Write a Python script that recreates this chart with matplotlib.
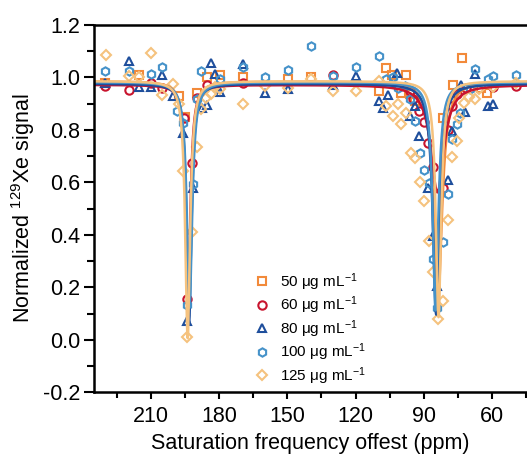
import numpy as np
import matplotlib.pyplot as plt
from matplotlib.ticker import MultipleLocator

plt.rcParams['font.family'] = ['Liberation Sans', 'DejaVu Sans']
plt.rcParams['mathtext.fontset'] = 'custom'
plt.rcParams['mathtext.rm'] = 'Liberation Sans'
plt.rcParams['mathtext.default'] = 'regular'

# data: offset (ppm) and normalized signal
labels = ['50 μg mL$^{-1}$', '60 μg mL$^{-1}$', '80 μg mL$^{-1}$',
          '100 μg mL$^{-1}$', '125 μg mL$^{-1}$']
colors = ['#F28A3A', '#C8142E', '#1E4E9C', '#4592C9', '#F5C27E']
markers = ['s', 'o', '^', 'h', 'D']

x50 = [230, 215, 197.8, 195, 189.8, 185.4, 179.5, 169.7, 149.5, 139.7, 109.7,
       106.4, 104, 100, 97.8, 96, 94, 81.4, 77.1, 73, 64.7, 62]
y50 = [0.98, 1.01, 0.93, 0.85, 0.94, 1.0, 1.01, 1.0, 0.994, 1.0, 0.95,
       1.034, 1.009, 0.94, 1.01, 0.936, 0.91, 0.847, 0.971, 1.074, 0.96, 0.94]

x60 = [230, 219.7, 210, 204.9, 195.4, 193.9, 192, 189.8, 185.4, 169.7, 129.8,
       96, 94.6, 92, 89.9, 88, 85.8, 81.4, 79.5, 77.5, 75.4, 71.6, 59.5, 49.3]
y60 = [0.966, 0.953, 0.98, 0.96, 0.847, 0.155, 0.675, 0.92, 0.97, 0.98, 1.01,
       0.95, 0.917, 0.873, 0.83, 0.749, 0.66, 0.58, 0.80, 0.89, 0.936, 0.96, 0.962, 0.966]

x80 = [230, 219.7, 215, 210, 204.9, 200.3, 195.9, 193.9, 191.6, 187.5, 185.4,
       183.6, 181.7, 179.5, 169.7, 159.8, 149.5, 129.8, 119.7, 109.7, 108.1,
       105.9, 101.9, 96.1, 94, 92, 88, 85.8, 84, 79.5, 77.5, 73.6, 71.7, 67.6,
       61.8, 59.6]
y80 = [0.98, 1.064, 0.962, 0.962, 1.009, 0.93, 0.79, 0.07, 0.58, 0.885, 0.894,
       1.055, 1.013, 0.943, 1.051, 0.939, 0.955, 0.97, 1.004, 0.911, 0.885,
       0.934, 1.017, 0.854, 0.89, 0.775, 0.58, 0.395, 0.204, 0.608, 0.796, 0.97,
       0.87, 1.013, 0.89, 0.898]

x100 = [230, 219.7, 210, 204.9, 198.6, 195.9, 193.9, 191.6, 189.8, 187.9,
        179.5, 169.7, 159.8, 149.5, 139.7, 129.8, 119.7, 109.7, 106.4, 103.4,
        101.2, 98.3, 96.1, 93.9, 91.7, 89.9, 87.7, 86.1, 84, 81.4, 79.5, 77.5,
        75.6, 74.1, 69.7, 67.6, 61.8, 59.6, 49.3]
y100 = [1.025, 1.025, 1.013, 1.041, 0.873, 0.828, 0.134, 0.592, 0.917, 1.025,
        0.994, 1.038, 1.0, 1.028, 1.118, 1.004, 1.039, 1.083, 0.994, 1.0,
        0.96, 0.966, 0.917, 0.834, 0.713, 0.647, 0.599, 0.306, 0.121, 0.372,
        0.554, 0.764, 0.822, 0.866, 0.955, 1.032, 0.994, 1.004, 1.009]

x125 = [229.9, 219.7, 215, 210, 204.9, 200.3, 197.7, 195.9, 193.9, 192, 189.8,
        187.9, 185.8, 183.6, 181.7, 179.5, 169.7, 159.8, 149.5, 139.7, 129.8,
        119.7, 109.7, 106.4, 103.7, 101.2, 99.8, 97.6, 95.8, 93.9, 91.7, 89.9,
        87.7, 85.8, 83.6, 81.7, 79.5, 77.5, 75.3, 74.4, 72.5, 70.3, 67.4, 65.8,
        59.6, 49.3]
y125 = [1.087, 1.004, 1.0, 1.093, 0.934, 0.975, 0.90, 0.643, 0.009, 0.411, 0.733,
        0.879, 0.92, 0.936, 0.964, 0.955, 0.898, 0.966, 0.958, 0.994, 0.949,
        0.949, 0.987, 0.892, 0.854, 0.898, 0.822, 0.866, 0.713, 0.694, 0.601,
        0.529, 0.376, 0.257, 0.079, 0.149, 0.456, 0.698, 0.758, 0.847, 0.904,
        0.926, 0.917, 0.955, 0.962, 0.98]

xs = [x50, x60, x80, x100, x125]
ys = [y50, y60, y80, y100, y125]

# two-peak Lorentzian fit parameters
baseline = [0.985, 0.972, 0.976, 0.982, 0.986]
c1 = [193.5, 193.6, 193.2, 193.0, 193.8]
a1 = [0.88, 0.83, 0.91, 0.86, 0.98]
w1 = [1.3, 1.2, 1.3, 1.4, 1.3]
c2 = [83.8, 84.0, 84.5, 84.8, 83.5]
a2 = [0.85, 0.41, 0.88, 0.87, 0.90]
w2 = [2.2, 3.5, 1.8, 1.5, 1.4]

fig = plt.figure(figsize=(5.27, 4.62), dpi=100)
ax = fig.add_axes([0.1784, 0.151, 0.8216, 0.795])

xf = np.linspace(44, 236, 4000)
handles = []
for i in range(5):
    h, = ax.plot(xs[i], ys[i], linestyle='none', marker=markers[i],
                 markersize=6 if markers[i] != 'D' else 5.5,
                 markerfacecolor='none', markeredgecolor=colors[i],
                 markeredgewidth=1.5, label=labels[i])
    handles.append(h)
for i in range(5):
    yf = (baseline[i]
          - a1[i] / (1 + ((xf - c1[i]) / w1[i]) ** 2)
          - a2[i] / (1 + ((xf - c2[i]) / w2[i]) ** 2))
    ax.plot(xf, yf, color=colors[i], linewidth=1.8)

ax.set_xlim(235, 44.6)
ax.set_ylim(-0.2, 1.2)
ax.xaxis.set_major_locator(MultipleLocator(30))
ax.xaxis.set_minor_locator(MultipleLocator(15))
ax.yaxis.set_major_locator(MultipleLocator(0.2))
ax.yaxis.set_minor_locator(MultipleLocator(0.1))
ax.yaxis.set_major_formatter(plt.FuncFormatter(lambda v, p: '%.1f' % v))
ax.tick_params(axis='x', which='major', direction='out', length=5, width=1.5,
               labelsize=15.5, pad=5)
ax.tick_params(axis='y', which='major', direction='out', length=7, width=1.5,
               labelsize=15.5, pad=3)
ax.tick_params(axis='x', which='minor', direction='out', length=4, width=1.5)
ax.tick_params(axis='y', which='minor', direction='out', length=5, width=1.5)
ax.tick_params(top=False, right=False)
for s in ['left', 'bottom', 'top']:
    ax.spines[s].set_linewidth(1.8)
ax.spines['right'].set_visible(False)

ax.set_xlabel('Saturation frequency offest (ppm)', fontsize=15.5, labelpad=4)
ax.set_ylabel('Normalized $^{129}$Xe signal', fontsize=15.5, labelpad=4)

ax.legend(handles=handles, loc='lower left', bbox_to_anchor=(0.335, -0.022),
          frameon=False, fontsize=11, handletextpad=0.6, labelspacing=0.12,
          handlelength=1.2)

fig.savefig('out.png', dpi=100)
